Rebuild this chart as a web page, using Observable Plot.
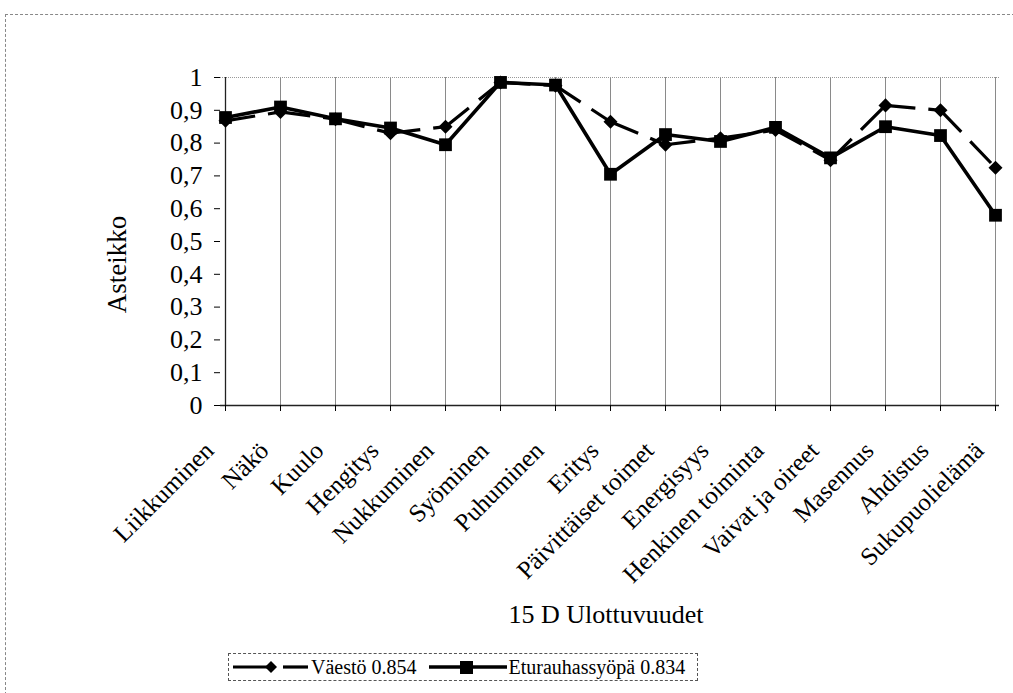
<!DOCTYPE html>
<html>
<head>
<meta charset="utf-8">
<script src="https://cdn.jsdelivr.net/npm/d3@7"></script>
<script src="https://cdn.jsdelivr.net/npm/@observablehq/plot@0.6"></script>
<style>
  html, body { margin: 0; padding: 0; background: #fff; }
  #wrap { position: relative; width: 1013px; height: 693px; overflow: hidden; font-family: "Liberation Serif", serif; }
  #frame { position: absolute; left: 5px; top: 14px; right: -2px; bottom: -2px;
           border-left: 1px dashed #888; border-top: 1px dashed #888; }
  #chart { position: absolute; left: 0; top: 0; }
  #legend { position: absolute; left: 228px; top: 653px; height: 26px; padding-right: 8px;
            border: 1px dashed #555; display: flex; align-items: center; color: #000; white-space: nowrap; }
  #legend svg { display: block; }
  #legend span { font-family: "Liberation Serif", serif; font-size: 20px; margin-right: 4px; }
</style>
</head>
<body>
<div id="wrap">
  <div id="frame"></div>
  <div id="chart"></div>
  <div id="legend"></div>
</div>
<script>
// 15D dimensions
const categories = [
  "Liikkuminen", "Näkö", "Kuulo", "Hengitys", "Nukkuminen", "Syöminen", "Puhuminen",
  "Eritys", "Päivittäiset toimet", "Energisyys", "Henkinen toiminta", "Vaivat ja oireet",
  "Masennus", "Ahdistus", "Sukupuolielämä"
];
// Population reference (Väestö 0.854)
const vaesto = [0.868, 0.895, 0.873, 0.83, 0.85, 0.985, 0.975, 0.865, 0.795, 0.815, 0.84, 0.748, 0.915, 0.9, 0.725];
// Prostate cancer patients (Eturauhassyöpä 0.834)
const eturauhas = [0.878, 0.91, 0.874, 0.846, 0.795, 0.985, 0.977, 0.705, 0.826, 0.805, 0.848, 0.755, 0.85, 0.823, 0.58];
const yTicks = [0, 0.1, 0.2, 0.3, 0.4, 0.5, 0.6, 0.7, 0.8, 0.9, 1];
const seriesNames = ["Väestö 0.854", "Eturauhassyöpä 0.834"];

const popRows = categories.map((c, i) => ({c, v: vaesto[i]}));
const cancerRows = categories.map((c, i) => ({c, v: eturauhas[i]}));
// dashed population line drawn segment by segment so each dash pattern starts at a point
const popSegments = categories.slice(1).map((c, i) => ({a: categories[i], b: c, v0: vaesto[i], v1: vaesto[i + 1]}));

const fmt = d => d === 0 ? "0" : d === 1 ? "1" : d.toFixed(1).replace(".", ",");
const serif = "Liberation Serif";

const chart = Plot.plot({
  width: 1013,
  height: 640,
  marginLeft: 220,
  marginRight: 14,
  marginTop: 77,
  marginBottom: 235,
  style: {fontFamily: serif, color: "#000", background: "transparent", overflow: "visible"},
  x: {type: "point", domain: categories, padding: 0},
  y: {domain: [0, 1]},
  marks: [
    // vertical gridlines at each category
    Plot.ruleX(categories, {stroke: "#8a8a8a", strokeWidth: 1}),
    Plot.ruleY([1], {stroke: "#999", strokeDasharray: "1,1"}),
    Plot.ruleY([0], {stroke: "#222", strokeWidth: 1.3}),
    Plot.ruleX([categories[0]], {stroke: "#222", strokeWidth: 1.3}),
    Plot.axisY({ticks: yTicks, tickFormat: fmt, tickSize: 6, tickPadding: 12, fontSize: 26, label: null, fontFamily: serif}),
    Plot.axisX({tickSize: 6, tickFormat: () => "", label: null}),
    // rotated category labels
    Plot.text(categories, {x: d => d, frameAnchor: "bottom", rotate: -45, textAnchor: "end", lineAnchor: "middle",
      dx: -16, dy: 41, fontSize: 25, fontFamily: serif, fill: "#000"}),
    // axis titles
    Plot.text(["Asteikko"], {y: [0.43], frameAnchor: "left", textAnchor: "middle", dx: -103, rotate: -90,
      fontSize: 27, fontFamily: serif, fill: "#000"}),
    Plot.text(["15 D Ulottuvuudet"], {frameAnchor: "bottom", dy: 217, dx: -4, fontSize: 26, fontFamily: serif, fill: "#000"}),
    // Väestö: dashed line with diamonds
    Plot.link(popSegments, {x1: "a", y1: "v0", x2: "b", y2: "v1", stroke: "#000", strokeWidth: 3.2, strokeDasharray: "30,13"}),
    Plot.dot(popRows, {x: "c", y: "v", symbol: "square", rotate: 45, r: 5.6, fill: "#000", stroke: "none"}),
    // Eturauhassyöpä: solid line with squares
    Plot.line(cancerRows, {x: "c", y: "v", stroke: "#000", strokeWidth: 3.6}),
    Plot.dot(cancerRows, {x: "c", y: "v", symbol: "square", r: 7.2, fill: "#000", stroke: "none"})
  ]
});
document.getElementById("chart").appendChild(chart);

// legend below the chart
const legend = document.getElementById("legend");
function symbolSvg(kind) {
  const ns = "http://www.w3.org/2000/svg";
  const svg = document.createElementNS(ns, "svg");
  if (kind === "diamond") {
    svg.setAttribute("width", 82); svg.setAttribute("height", 24);
    svg.innerHTML = '<line x1="4" y1="12" x2="44" y2="12" stroke="#000" stroke-width="3.2"/>' +
      '<line x1="54" y1="12" x2="79" y2="12" stroke="#000" stroke-width="3.2"/>' +
      '<path d="M42,6 L48,12 L42,18 L36,12 Z" fill="#000"/>';
  } else {
    svg.setAttribute("width", 88); svg.setAttribute("height", 24);
    svg.innerHTML = '<line x1="8" y1="12" x2="86" y2="12" stroke="#000" stroke-width="3.6"/>' +
      '<rect x="39" y="6" width="13" height="13" fill="#000"/>';
  }
  return svg;
}
[["diamond", seriesNames[0]], ["square", seriesNames[1]]].forEach(([k, name]) => {
  legend.appendChild(symbolSvg(k));
  const s = document.createElement("span");
  s.textContent = name;
  legend.appendChild(s);
});
</script>
</body>
</html>
